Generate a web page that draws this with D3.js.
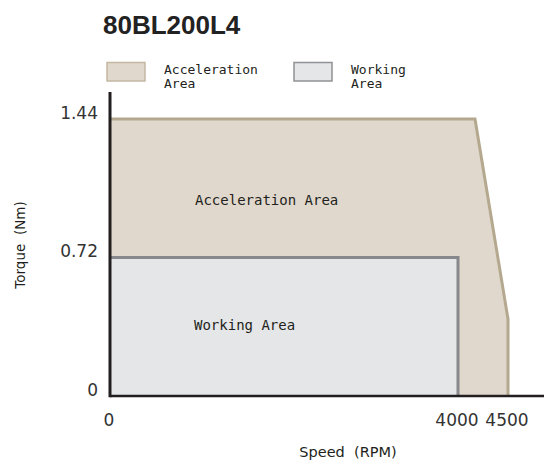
<!DOCTYPE html>
<html lang="en">
<head>
    <meta charset="UTF-8">
    <script src="https://d3js.org/d3.v7.min.js"></script>
    <title>80BL200L4</title>
    <style>
        body { margin: 0; background: #fff; }
        svg { display: block; }
    </style>
</head>
<body>
    <div id="chart"></div>
    <script>
        // Torque / speed envelope
        const speedTicks = [0, 4000, 4500];
        const torqueTicks = [0, 0.72, 1.44];
        const accelSpeed = [0, 0, 4170, 4500, 4500];
        const accelTorque = [0, 1.44, 1.44, 0.40, 0];
        const workSpeed = [0, 0, 4000, 4000];
        const workTorque = [0, 0.72, 0.72, 0];
        const legendLabels = [["Acceleration", "Area"], ["Working", "Area"]];
        const areaLabels = ["Acceleration Area", "Working Area"];

        const width = 546, height = 462;
        const accelFill = "#e0d8cc", accelStroke = "#b4a88f";
        const workFill = "#e5e6e8", workStroke = "#86888b";
        const ink = "#231f20";

        const svg = d3.select("#chart").append("svg")
            .attr("width", width)
            .attr("height", height);

        // Scales (drawing is not strictly linear, so a piecewise domain)
        const x = d3.scaleLinear().domain([0, 4000, 4500]).range([110, 458, 508]);
        const y = d3.scaleLinear().domain([0, 1.44]).range([396, 119]);

        const accel = accelSpeed.map((s, i) => [s, accelTorque[i]]);
        const work = workSpeed.map((s, i) => [s, workTorque[i]]);
        const line = d3.line().x(d => x(d[0])).y(d => y(d[1]));

        // Acceleration area
        svg.append("path")
            .attr("d", line(accel) + "Z")
            .attr("fill", accelFill);
        svg.append("path")
            .attr("d", line(accel.slice(1)))
            .attr("fill", "none")
            .attr("stroke", accelStroke)
            .attr("stroke-width", 3);

        // Working area
        svg.append("path")
            .attr("d", line(work) + "Z")
            .attr("fill", workFill);
        svg.append("path")
            .attr("d", line(work.slice(1)))
            .attr("fill", "none")
            .attr("stroke", workStroke)
            .attr("stroke-width", 3);

        // Axes
        svg.append("line")
            .attr("x1", x(0)).attr("x2", 544)
            .attr("y1", y(0)).attr("y2", y(0))
            .attr("stroke", ink).attr("stroke-width", 2.5);
        svg.append("line")
            .attr("x1", x(0)).attr("x2", x(0))
            .attr("y1", 92).attr("y2", y(0) + 1.2)
            .attr("stroke", ink).attr("stroke-width", 3);

        svg.selectAll(".ytick")
            .data(torqueTicks)
            .enter().append("text")
            .attr("class", "ytick")
            .attr("x", 98)
            .attr("y", d => y(d) - 6)
            .attr("dy", "0.35em")
            .attr("text-anchor", "end")
            .style("font-family", "DejaVu Sans, sans-serif")
            .style("font-size", "17px")
            .attr("fill", "#333")
            .text(d => d);

        svg.selectAll(".xtick")
            .data(speedTicks)
            .enter().append("text")
            .attr("class", "xtick")
            .attr("x", d => x(d) - 1)
            .attr("y", 426)
            .attr("text-anchor", "middle")
            .style("font-family", "DejaVu Sans, sans-serif")
            .style("font-size", "17px")
            .attr("fill", "#333")
            .text(d => d);

        // Axis titles
        svg.append("text")
            .attr("x", 348).attr("y", 457)
            .attr("text-anchor", "middle")
            .style("font-family", "DejaVu Sans, sans-serif")
            .style("font-size", "14.5px")
            .attr("fill", ink)
            .attr("xml:space", "preserve")
            .text("Speed  (RPM)");

        svg.append("text")
            .attr("transform", "translate(25,245) rotate(-90)")
            .attr("text-anchor", "middle")
            .style("font-family", "DejaVu Sans, sans-serif")
            .style("font-size", "13.5px")
            .attr("fill", ink)
            .attr("xml:space", "preserve")
            .text("Torque  (Nm)");

        // Title
        svg.append("text")
            .attr("x", 103).attr("y", 34)
            .style("font-family", "Liberation Sans, Arial, sans-serif")
            .style("font-size", "26px")
            .style("font-weight", "bold")
            .attr("fill", "#222")
            .text("80BL200L4");

        // Legend
        const legend = [
            { x: 107, fill: accelFill, stroke: "#c4b8a3", label: legendLabels[0] },
            { x: 294, fill: workFill, stroke: "#8f9194", label: legendLabels[1] }
        ];
        legend.forEach(l => {
            svg.append("rect")
                .attr("x", l.x).attr("y", 62.5)
                .attr("width", 38).attr("height", 18.5)
                .attr("fill", l.fill)
                .attr("stroke", l.stroke)
                .attr("stroke-width", 1.5);
            const t = svg.append("text")
                .style("font-family", "DejaVu Sans Mono, monospace")
                .style("font-size", "13px")
                .attr("fill", ink);
            l.label.forEach((s, i) => {
                t.append("tspan")
                    .attr("x", l.x + 57)
                    .attr("y", 74 + i * 13.5)
                    .text(s);
            });
        });

        // Labels inside the areas
        svg.append("text")
            .attr("x", 195).attr("y", 205)
            .style("font-family", "DejaVu Sans Mono, monospace")
            .style("font-size", "14px")
            .attr("fill", ink)
            .text(areaLabels[0]);
        svg.append("text")
            .attr("x", 194).attr("y", 330)
            .style("font-family", "DejaVu Sans Mono, monospace")
            .style("font-size", "14px")
            .attr("fill", ink)
            .text(areaLabels[1]);
    </script>
</body>
</html>
